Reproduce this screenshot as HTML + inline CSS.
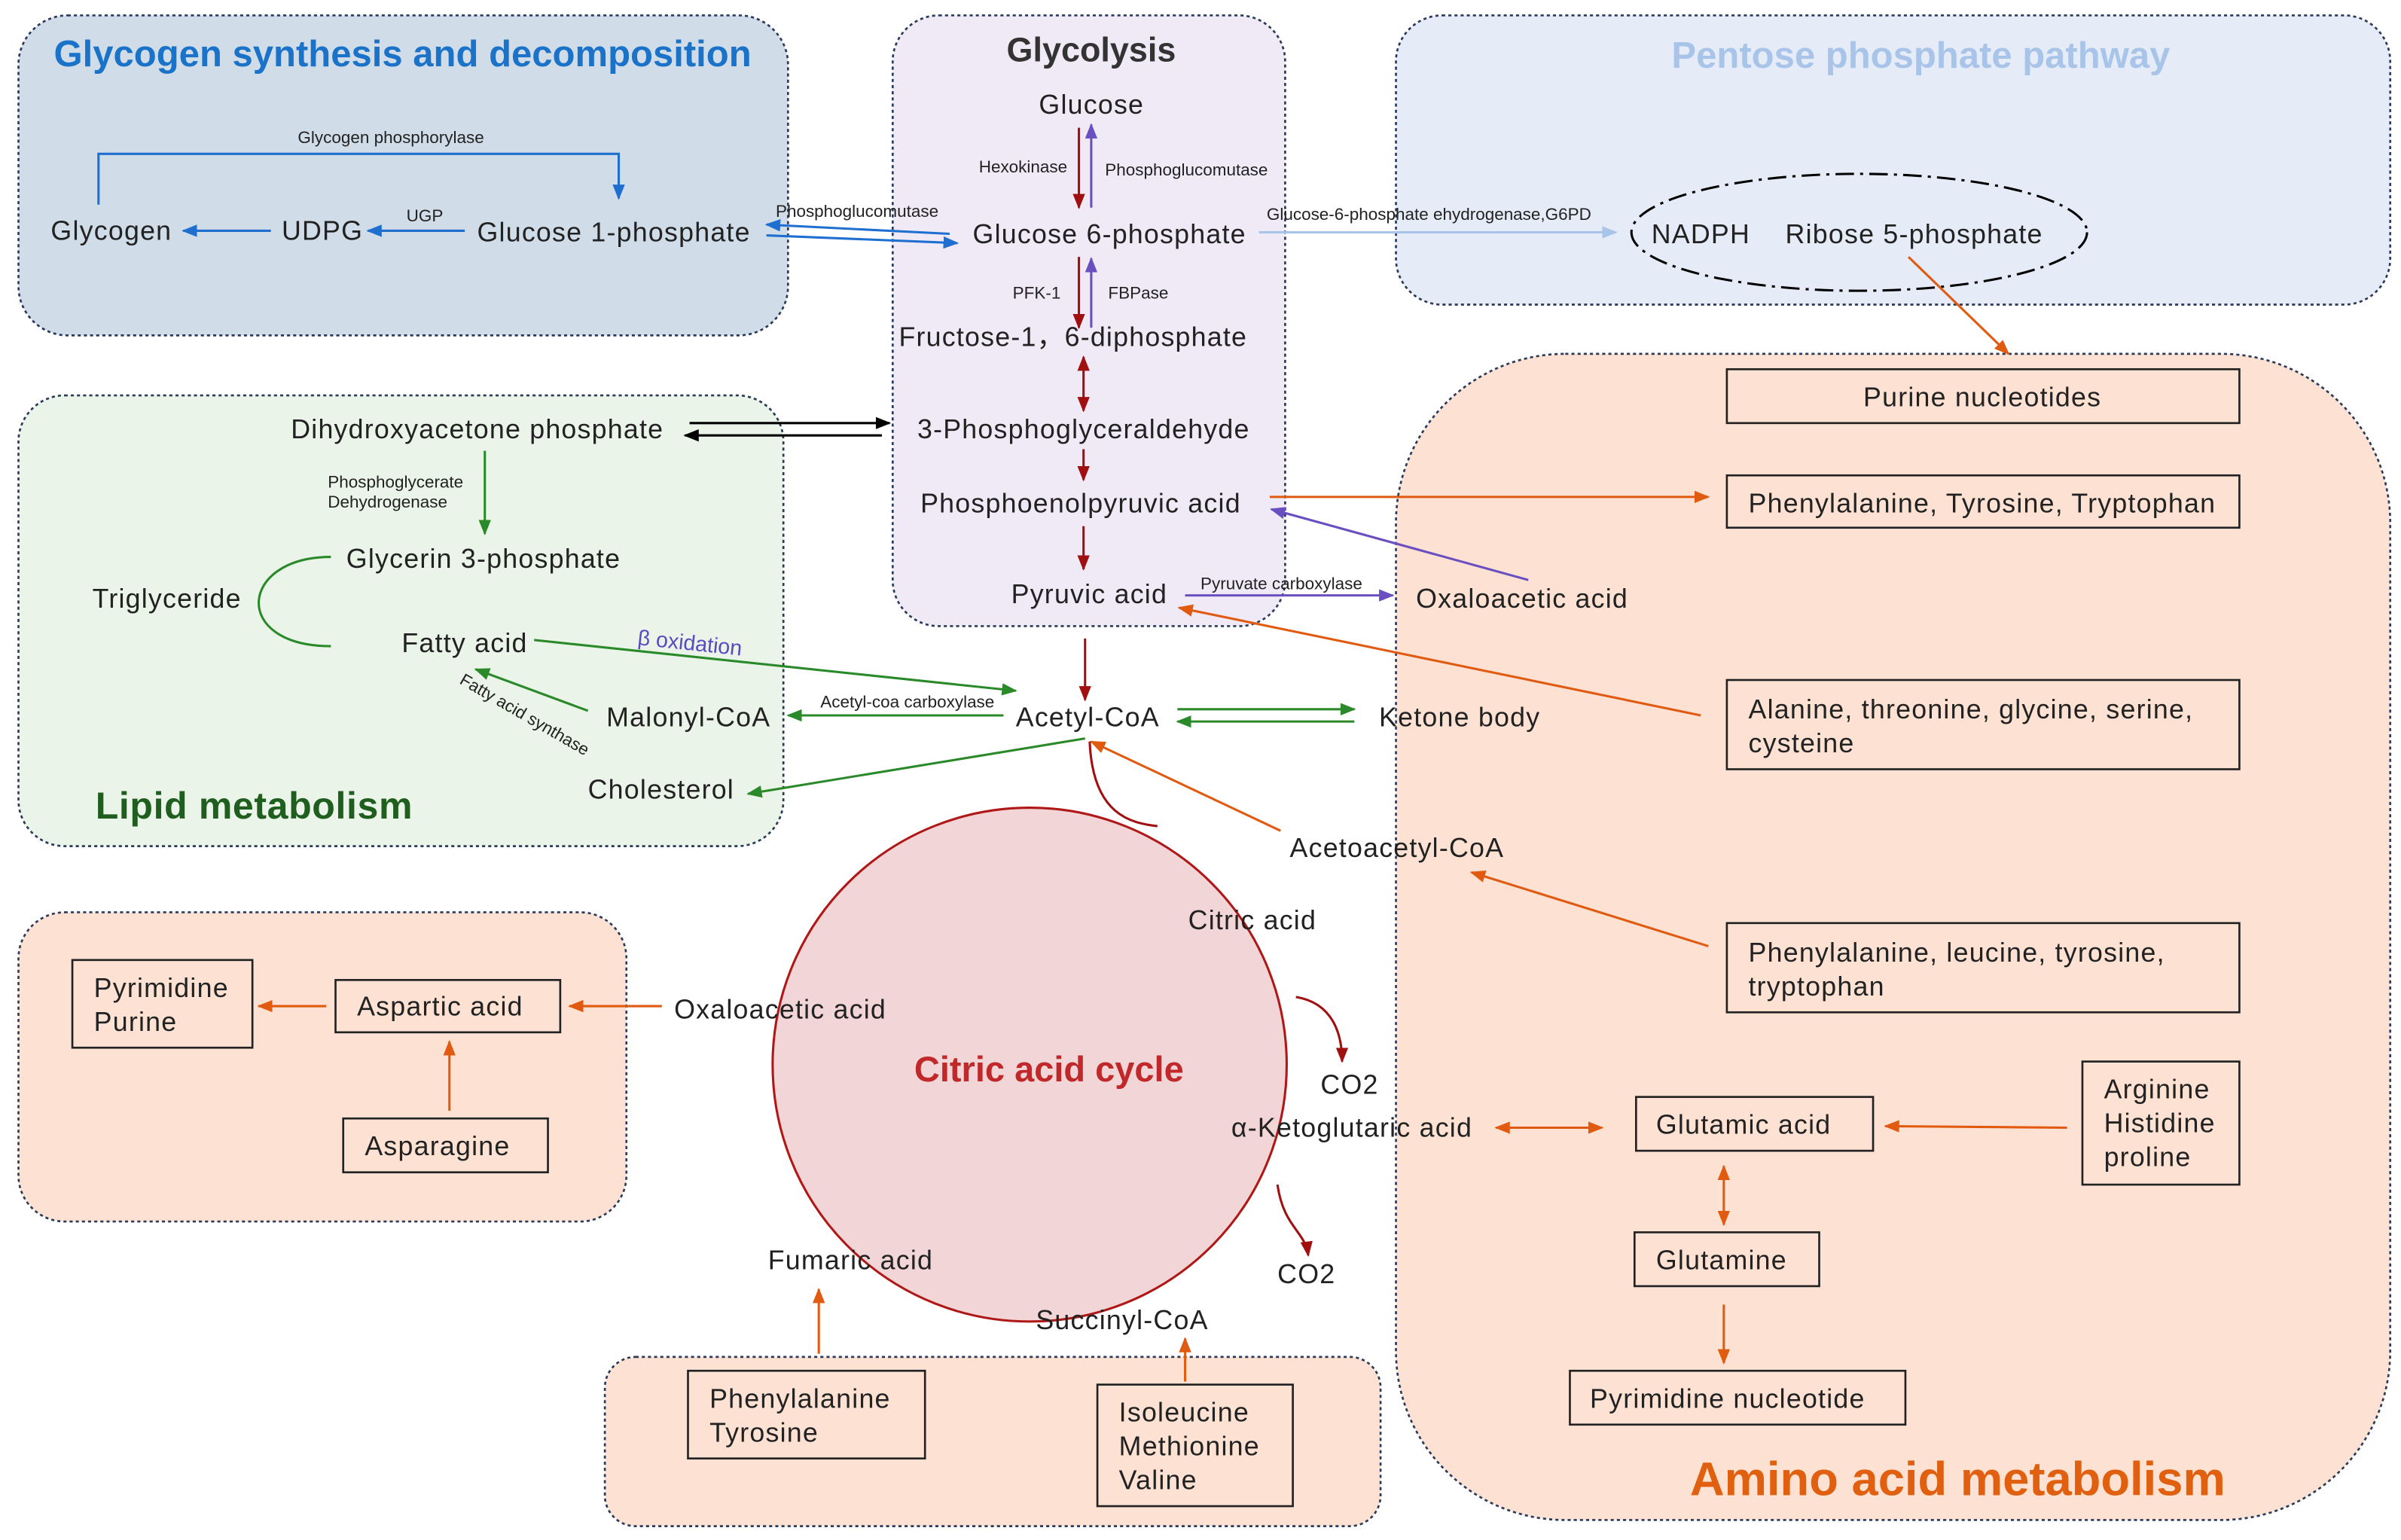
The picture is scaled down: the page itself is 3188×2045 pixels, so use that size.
<!DOCTYPE html>
<html><head><meta charset="utf-8"><style>
html,body{margin:0;padding:0;background:#fff;}
svg{display:block;}
text{font-family:"Liberation Sans","DejaVu Sans",sans-serif;fill:#222;}
.l{font-size:17.5px;letter-spacing:0.6px;}
.s{font-size:11px;}
</style></head><body>
<svg width="3188" height="2045" viewBox="0 0 1560 1001" preserveAspectRatio="none" xmlns="http://www.w3.org/2000/svg">
<defs>
<marker id="r" markerWidth="10" markerHeight="10" refX="9" refY="5" orient="auto" markerUnits="userSpaceOnUse"><path d="M0,1 L10,5 L0,9z" fill="#a01010"/></marker>
<marker id="p" markerWidth="10" markerHeight="10" refX="9" refY="5" orient="auto" markerUnits="userSpaceOnUse"><path d="M0,1 L10,5 L0,9z" fill="#6a4fc0"/></marker>
<marker id="b" markerWidth="10" markerHeight="10" refX="9" refY="5" orient="auto" markerUnits="userSpaceOnUse"><path d="M0,1 L10,5 L0,9z" fill="#1f6fd0"/></marker>
<marker id="lb" markerWidth="10" markerHeight="10" refX="9" refY="5" orient="auto" markerUnits="userSpaceOnUse"><path d="M0,1 L10,5 L0,9z" fill="#a8c4e8"/></marker>
<marker id="g" markerWidth="10" markerHeight="10" refX="9" refY="5" orient="auto" markerUnits="userSpaceOnUse"><path d="M0,1 L10,5 L0,9z" fill="#2a8a2a"/></marker>
<marker id="o" markerWidth="10" markerHeight="10" refX="9" refY="5" orient="auto" markerUnits="userSpaceOnUse"><path d="M0,1 L10,5 L0,9z" fill="#e05a10"/></marker>
<marker id="os" markerWidth="10" markerHeight="10" refX="1" refY="5" orient="auto" markerUnits="userSpaceOnUse"><path d="M10,1 L0,5 L10,9z" fill="#e05a10"/></marker>
<marker id="rs" markerWidth="10" markerHeight="10" refX="1" refY="5" orient="auto" markerUnits="userSpaceOnUse"><path d="M10,1 L0,5 L10,9z" fill="#a01010"/></marker>
<marker id="k" markerWidth="10" markerHeight="10" refX="9" refY="5" orient="auto" markerUnits="userSpaceOnUse"><path d="M0,1 L10,5 L0,9z" fill="#000"/></marker>
</defs>

<g stroke="#2a3a5a" stroke-width="1.3" stroke-dasharray="2,2">
<rect x="12" y="10" width="500" height="208" rx="32" fill="#d0dde9"/>
<rect x="580" y="10" width="255" height="397" rx="30" fill="#efeaf6"/>
<rect x="907" y="10" width="646" height="188" rx="30" fill="#e6ecf7"/>
<rect x="12" y="257" width="497" height="293" rx="30" fill="#eaf4e8"/>
<rect x="907" y="230" width="646" height="758" rx="110" fill="#fde2d4"/>
<rect x="12" y="593" width="395" height="201" rx="30" fill="#fde2d4"/>
<rect x="393" y="882" width="504" height="110" rx="20" fill="#fde2d4"/>
</g>

<circle cx="669" cy="692" r="167" fill="#f2d5d6" stroke="#b01818" stroke-width="1.5"/>

<text x="35" y="43" font-size="24" font-weight="bold" style="fill:#1a73c9">Glycogen synthesis and decomposition</text>
<text x="654" y="40" font-size="22" font-weight="bold" style="fill:#333">Glycolysis</text>
<text x="1248" y="44" font-size="24" font-weight="bold" text-anchor="middle" style="fill:#a8c4e8">Pentose phosphate pathway</text>
<text x="62" y="532" font-size="24.5" font-weight="bold" letter-spacing="0.3" style="fill:#1f5e1f">Lipid metabolism</text>
<text x="1098" y="972" font-size="31" font-weight="bold" style="fill:#e06010">Amino acid metabolism</text>
<text x="594" y="703" font-size="23" font-weight="bold" style="fill:#c0282a">Citric acid cycle</text>

<path d="M64,133 V100 H402 V129" fill="none" stroke="#1f6fd0" stroke-width="1.5" marker-end="url(#b)"/>
<text x="254" y="93" class="s" text-anchor="middle">Glycogen phosphorylase</text>
<text x="33" y="156" class="l">Glycogen</text>
<text x="183" y="156" class="l">UDPG</text>
<text x="310" y="157" class="l">Glucose 1-phosphate</text>
<line x1="176" y1="150" x2="119" y2="150" stroke="#1f6fd0" stroke-width="1.5" marker-end="url(#b)"/>
<line x1="302" y1="150" x2="239" y2="150" stroke="#1f6fd0" stroke-width="1.5" marker-end="url(#b)"/>
<text x="276" y="144" class="s" text-anchor="middle">UGP</text>
<line x1="617" y1="152" x2="498" y2="146" stroke="#1f6fd0" stroke-width="1.5" marker-end="url(#b)"/>
<line x1="498" y1="153" x2="622" y2="158" stroke="#1f6fd0" stroke-width="1.5" marker-end="url(#b)"/>
<text x="504" y="141" class="s">Phosphoglucomutase</text>

<text x="675" y="74" class="l">Glucose</text>
<line x1="701" y1="83" x2="701" y2="135" stroke="#a01010" stroke-width="1.5" marker-end="url(#r)"/>
<line x1="709" y1="135" x2="709" y2="81" stroke="#6a4fc0" stroke-width="1.5" marker-end="url(#p)"/>
<text x="636" y="112" class="s">Hexokinase</text>
<text x="718" y="114" class="s">Phosphoglucomutase</text>
<text x="632" y="158" class="l">Glucose 6-phosphate</text>
<text x="658" y="194" class="s">PFK-1</text>
<text x="720" y="194" class="s">FBPase</text>
<line x1="701" y1="167" x2="701" y2="213" stroke="#a01010" stroke-width="1.5" marker-end="url(#r)"/>
<line x1="709" y1="213" x2="709" y2="168" stroke="#6a4fc0" stroke-width="1.5" marker-end="url(#p)"/>
<text x="584" y="225" class="l">Fructose-1，6-diphosphate</text>
<line x1="704" y1="232" x2="704" y2="267" stroke="#a01010" stroke-width="1.5" marker-start="url(#rs)" marker-end="url(#r)"/>
<text x="596" y="285" class="l">3-Phosphoglyceraldehyde</text>
<line x1="704" y1="292" x2="704" y2="312" stroke="#a01010" stroke-width="1.5" marker-end="url(#r)"/>
<text x="598" y="333" class="l">Phosphoenolpyruvic acid</text>
<line x1="704" y1="342" x2="704" y2="370" stroke="#a01010" stroke-width="1.5" marker-end="url(#r)"/>
<text x="657" y="392" class="l">Pyruvic acid</text>
<line x1="705" y1="415" x2="705" y2="455" stroke="#a01010" stroke-width="1.5" marker-end="url(#r)"/>

<ellipse cx="1208" cy="151" rx="148" ry="38" fill="none" stroke="#000" stroke-width="1.5" stroke-dasharray="12,4,2,4"/>
<text x="1073" y="158" class="l">NADPH</text>
<text x="1160" y="158" class="l">Ribose 5-phosphate</text>
<line x1="818" y1="151" x2="1050" y2="151" stroke="#a8c4e8" stroke-width="1.5" marker-end="url(#lb)"/>
<text x="823" y="143" class="s">Glucose-6-phosphate ehydrogenase,G6PD</text>
<line x1="1240" y1="167" x2="1305" y2="230" stroke="#e05a10" stroke-width="1.5" marker-end="url(#o)"/>

<g fill="none" stroke="#222" stroke-width="1.3">
<rect x="1122" y="240" width="333" height="35"/>
<rect x="1122" y="309" width="333" height="34"/>
<rect x="1122" y="442" width="333" height="58"/>
<rect x="1122" y="600" width="333" height="58"/>
<rect x="1063" y="713" width="154" height="35"/>
<rect x="1353" y="690" width="102" height="80"/>
<rect x="1062" y="801" width="120" height="35"/>
<rect x="1020" y="891" width="218" height="35"/>
<rect x="47" y="624" width="117" height="57"/>
<rect x="218" y="637" width="146" height="34"/>
<rect x="223" y="727" width="133" height="35"/>
<rect x="447" y="891" width="154" height="57"/>
<rect x="713" y="900" width="127" height="79"/>
</g>
<text x="1288" y="264" class="l" text-anchor="middle">Purine nucleotides</text>
<text x="1136" y="333" class="l">Phenylalanine, Tyrosine, Tryptophan</text>
<text x="1136" y="467" class="l">Alanine, threonine, glycine, serine,</text>
<text x="1136" y="489" class="l">cysteine</text>
<text x="1136" y="625" class="l">Phenylalanine, leucine, tyrosine,</text>
<text x="1136" y="647" class="l">tryptophan</text>
<text x="1076" y="737" class="l">Glutamic acid</text>
<text x="1367" y="714" class="l">Arginine</text>
<text x="1367" y="736" class="l">Histidine</text>
<text x="1367" y="758" class="l">proline</text>
<text x="1076" y="825" class="l">Glutamine</text>
<text x="1033" y="915" class="l">Pyrimidine nucleotide</text>
<text x="61" y="648" class="l">Pyrimidine</text>
<text x="61" y="670" class="l">Purine</text>
<text x="232" y="660" class="l">Aspartic acid</text>
<text x="237" y="751" class="l">Asparagine</text>
<text x="461" y="915" class="l">Phenylalanine</text>
<text x="461" y="937" class="l">Tyrosine</text>
<text x="727" y="924" class="l">Isoleucine</text>
<text x="727" y="946" class="l">Methionine</text>
<text x="727" y="968" class="l">Valine</text>

<g stroke="#e05a10" stroke-width="1.5">
<line x1="825" y1="323" x2="1110" y2="323" marker-end="url(#o)"/>
<line x1="1105" y1="465" x2="766" y2="395" marker-end="url(#o)"/>
<line x1="832" y1="540" x2="709" y2="482" marker-end="url(#o)"/>
<line x1="1110" y1="615" x2="956" y2="567" marker-end="url(#o)"/>
<line x1="972" y1="733" x2="1041" y2="733" marker-start="url(#os)" marker-end="url(#o)"/>
<line x1="1343" y1="733" x2="1225" y2="732" marker-end="url(#o)"/>
<line x1="1120" y1="758" x2="1120" y2="796" marker-start="url(#os)" marker-end="url(#o)"/>
<line x1="1120" y1="848" x2="1120" y2="886" marker-end="url(#o)"/>
<line x1="430" y1="654" x2="370" y2="654" marker-end="url(#o)"/>
<line x1="212" y1="654" x2="168" y2="654" marker-end="url(#o)"/>
<line x1="292" y1="722" x2="292" y2="677" marker-end="url(#o)"/>
<line x1="532" y1="880" x2="532" y2="838" marker-end="url(#o)"/>
<line x1="770" y1="898" x2="770" y2="870" marker-end="url(#o)"/>
</g>

<text x="920" y="395" class="l">Oxaloacetic acid</text>
<line x1="993" y1="377" x2="826" y2="331" stroke="#6a4fc0" stroke-width="1.5" marker-end="url(#p)"/>
<line x1="770" y1="387" x2="905" y2="387" stroke="#6a4fc0" stroke-width="1.5" marker-end="url(#p)"/>
<text x="780" y="383" class="s">Pyruvate carboxylase</text>
<text x="838" y="557" class="l">Acetoacetyl-CoA</text>
<text x="800" y="739" class="l">α-Ketoglutaric acid</text>

<text x="189" y="285" class="l">Dihydroxyacetone phosphate</text>
<line x1="448" y1="275" x2="578" y2="275" stroke="#000" stroke-width="1.5" marker-end="url(#k)"/>
<line x1="573" y1="283" x2="445" y2="283" stroke="#000" stroke-width="1.5" marker-end="url(#k)"/>
<line x1="315" y1="293" x2="315" y2="347" stroke="#2a8a2a" stroke-width="1.5" marker-end="url(#g)"/>
<text x="213" y="317" class="s">Phosphoglycerate</text>
<text x="213" y="330" class="s">Dehydrogenase</text>
<text x="225" y="369" class="l">Glycerin 3-phosphate</text>
<text x="60" y="395" class="l">Triglyceride</text>
<path d="M215,362 C155,362 150,420 215,420" fill="none" stroke="#2a8a2a" stroke-width="1.5"/>
<text x="261" y="424" class="l">Fatty acid</text>
<line x1="347" y1="416" x2="660" y2="449" stroke="#2a8a2a" stroke-width="1.5" marker-end="url(#g)"/>
<text x="414" y="419" font-size="14" transform="rotate(6 414 419)" style="fill:#5a4ac0">β oxidation</text>
<text x="394" y="472" class="l">Malonyl-CoA</text>
<line x1="382" y1="462" x2="309" y2="435" stroke="#2a8a2a" stroke-width="1.5" marker-end="url(#g)"/>
<text x="298" y="444" class="s" transform="rotate(30 298 444)">Fatty acid synthase</text>
<text x="660" y="472" class="l">Acetyl-CoA</text>
<line x1="652" y1="465" x2="512" y2="465" stroke="#2a8a2a" stroke-width="1.5" marker-end="url(#g)"/>
<text x="533" y="460" class="s">Acetyl-coa carboxylase</text>
<text x="896" y="472" class="l">Ketone body</text>
<line x1="765" y1="461" x2="880" y2="461" stroke="#2a8a2a" stroke-width="1.5" marker-end="url(#g)"/>
<line x1="880" y1="469" x2="765" y2="469" stroke="#2a8a2a" stroke-width="1.5" marker-end="url(#g)"/>
<text x="382" y="519" class="l">Cholesterol</text>
<line x1="705" y1="480" x2="486" y2="516" stroke="#2a8a2a" stroke-width="1.5" marker-end="url(#g)"/>

<path d="M708,482 C710,530 735,535 752,537" fill="none" stroke="#a01010" stroke-width="1.5"/>
<text x="772" y="604" class="l">Citric acid</text>
<path d="M842,648 C866,652 872,672 872,690" fill="none" stroke="#a01010" stroke-width="1.5" marker-end="url(#r)"/>
<text x="858" y="711" class="l">CO2</text>
<path d="M830,770 C834,798 848,800 850,816" fill="none" stroke="#a01010" stroke-width="1.5" marker-end="url(#r)"/>
<text x="830" y="834" class="l">CO2</text>
<text x="499" y="825" class="l">Fumaric acid</text>
<text x="673" y="864" class="l">Succinyl-CoA</text>
<text x="438" y="662" class="l">Oxaloacetic acid</text>
</svg>
</body></html>
